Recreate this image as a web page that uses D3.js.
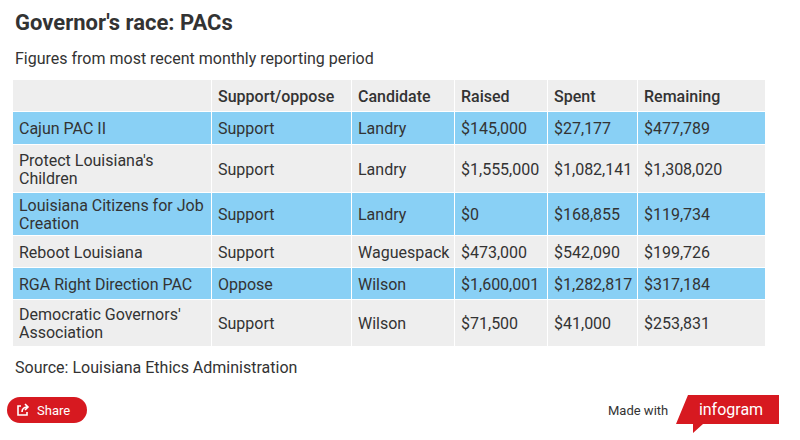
<!DOCTYPE html>
<html><head><meta charset="utf-8">
<script src="https://cdn.jsdelivr.net/npm/d3@7"></script>
<style>body{margin:0;background:#fff;font-family:Roboto,sans-serif}</style>
</head><body>
<svg id="chart" width="800" height="440"></svg>
<script>
var columns = ["", "Support/oppose", "Candidate", "Raised", "Spent", "Remaining"];
var names = ["Cajun PAC II", "Protect Louisiana's|Children", "Louisiana Citizens for Job|Creation", "Reboot Louisiana", "RGA Right Direction PAC", "Democratic Governors'|Association"];
var stance = ["Support", "Support", "Support", "Support", "Oppose", "Support"];
var candidate = ["Landry", "Landry", "Landry", "Waguespack", "Wilson", "Wilson"];
var raised = ["$145,000", "$1,555,000", "$0", "$473,000", "$1,600,001", "$71,500"];
var spent = ["$27,177", "$1,082,141", "$168,855", "$542,090", "$1,282,817", "$41,000"];
var remaining = ["$477,789", "$1,308,020", "$119,734", "$199,726", "$317,184", "$253,831"];

var svg = d3.select("#chart");
var colX = [13, 212, 352, 455, 548, 638, 766];
var rowH = [32, 33, 48, 43, 32, 32, 47];
var rowY = [80];
rowH.forEach((h, i) => rowY.push(rowY[i] + h));

svg.append("text").attr("x", 15).attr("y", 30).attr("font-size", 22).attr("font-weight", 700).attr("fill", "#333").text("Governor's race: PACs");
svg.append("text").attr("x", 15).attr("y", 64).attr("font-size", 16).attr("fill", "#333").text("Figures from most recent monthly reporting period");

var rows = [columns].concat(names.map((n, i) => [n, stance[i], candidate[i], raised[i], spent[i], remaining[i]]));
var g = svg.append("g");
rows.forEach(function(r, ri) {
  var fill = ri === 0 ? "#eeeeee" : (ri % 2 === 1 ? "#89d0f5" : "#eeeeee");
  r.forEach(function(cell, ci) {
    g.append("rect").attr("x", colX[ci]).attr("y", rowY[ri]).attr("width", colX[ci + 1] - colX[ci] - 1).attr("height", rowH[ri] - 1).attr("fill", fill);
    var lines = cell.split("|");
    var cy = rowY[ri] + rowH[ri] / 2 + 5.5 - (lines.length - 1) * 9;
    var t = g.append("text").attr("x", colX[ci] + 6).attr("y", cy).attr("font-size", 16).attr("fill", "#333").attr("font-weight", ri === 0 ? 500 : 400);
    lines.forEach((l, li) => t.append("tspan").attr("x", colX[ci] + 6).attr("dy", li ? 18 : 0).text(l));
  });
});

svg.append("text").attr("x", 15).attr("y", 373).attr("font-size", 16).attr("fill", "#333").text("Source: Louisiana Ethics Administration");

svg.append("rect").attr("x", 7).attr("y", 397).attr("width", 80).attr("height", 26).attr("rx", 13).attr("fill", "#d71920");
var ic = svg.append("g").attr("transform", "translate(17,404)").attr("fill", "none").attr("stroke", "#fff").attr("stroke-width", 1.6);
ic.append("path").attr("d", "M4 2 H1 V11 H10 V8");
ic.append("path").attr("d", "M5 8 Q5 3 11 3 M8 0 L11 3 L8 6");
svg.append("text").attr("x", 37).attr("y", 415).attr("font-size", 13).attr("fill", "#fff").text("Share");

svg.append("text").attr("x", 608).attr("y", 415).attr("font-size", 13).attr("fill", "#333").text("Made with");
svg.append("path").attr("d", "M688 395 L779 395 L779 424 L703 424 L693 433 L693 424 L676 424 Z").attr("fill", "#d71920");
svg.append("text").attr("x", 731).attr("y", 415).attr("text-anchor", "middle").attr("font-size", 16).attr("fill", "#fff").text("infogram");
</script>
</body></html>
